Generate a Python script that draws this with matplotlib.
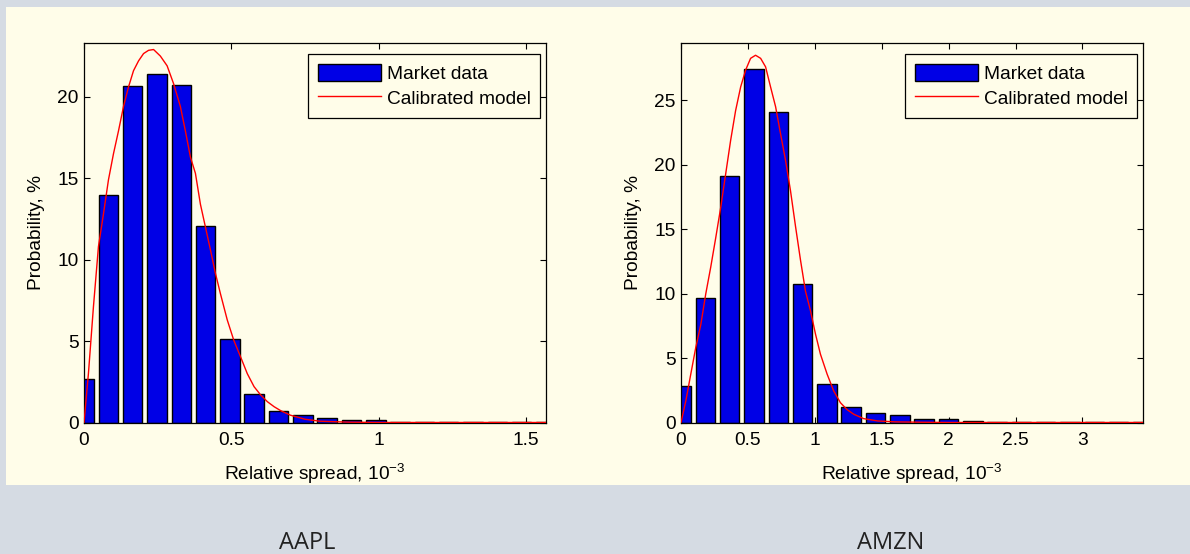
import matplotlib
matplotlib.use("Agg")
import matplotlib.pyplot as plt
from matplotlib.patches import Rectangle

plt.rcParams['font.family'] = ['Liberation Sans', 'DejaVu Sans']
plt.rcParams['mathtext.default'] = 'regular'

# histogram bin centres (1e-3 units) and bar heights, %
aapl_bins = [0, 0.0825, 0.165, 0.2475, 0.33, 0.4125, 0.495, 0.5775, 0.66, 0.7425,
             0.825, 0.9075, 0.99, 1.0725, 1.155, 1.2375, 1.32, 1.4025, 1.485, 1.5675]
aapl_prob = [2.65, 13.95, 20.65, 21.37, 20.72, 12.08, 5.12, 1.73, 0.73, 0.48,
             0.28, 0.17, 0.13, 0.06, 0.05, 0.04, 0.03, 0.03, 0.02, 0.02]
amzn_bins = [0, 0.1817, 0.3634, 0.5451, 0.7268, 0.9085, 1.0902, 1.2719, 1.4536, 1.6353,
             1.817, 1.9987, 2.1804, 2.3621, 2.5438, 2.7255, 2.9072, 3.0889, 3.2706, 3.4523]
amzn_prob = [2.85, 9.7, 19.1, 27.45, 24.1, 10.75, 2.97, 1.23, 0.75, 0.55,
             0.3, 0.3, 0.15, 0.07, 0.06, 0.05, 0.05, 0.04, 0.04, 0.04]

# calibrated model curves
aapl_model_x = [0, 0.015, 0.032, 0.049, 0.066, 0.083, 0.100, 0.117, 0.134, 0.151,
                0.168, 0.185, 0.202, 0.219, 0.236, 0.259, 0.282, 0.304, 0.327, 0.344,
                0.361, 0.378, 0.395, 0.412, 0.429, 0.446, 0.463, 0.486, 0.508, 0.531,
                0.554, 0.577, 0.599, 0.622, 0.645, 0.668, 0.70, 0.75, 0.80, 0.90,
                1.0, 1.2, 1.5675]
aapl_model_y = [0, 3.0, 7.1, 10.8, 12.8, 14.9, 16.5, 17.9, 19.4, 20.6,
                21.6, 22.2, 22.65, 22.85, 22.9, 22.5, 21.9, 20.8, 19.4, 17.9,
                16.3, 15.3, 13.4, 12.0, 10.6, 9.15, 7.9, 6.3, 5.06, 4.04,
                3.0, 2.2, 1.7, 1.28, 0.97, 0.72, 0.45, 0.2, 0.08, 0.02,
                0.0, 0.0, 0.0]
amzn_model_x = [0, 0.036, 0.073, 0.11, 0.148, 0.185, 0.222, 0.259, 0.297, 0.334,
                0.371, 0.408, 0.446, 0.483, 0.52, 0.557, 0.595, 0.632, 0.669, 0.707,
                0.744, 0.781, 0.818, 0.856, 0.893, 0.93, 0.967, 1.005, 1.042, 1.092,
                1.141, 1.191, 1.241, 1.291, 1.365, 1.47, 1.6, 1.8, 2.0, 3.4523]
amzn_model_y = [0, 1.67, 3.75, 5.8, 7.6, 9.98, 12.05, 14.3, 16.7, 19.3,
                21.9, 24.2, 26.05, 27.35, 28.26, 28.5, 28.26, 27.6, 26.05, 24.5,
                22.4, 20.35, 18.0, 15.2, 12.6, 10.2, 8.7, 6.86, 5.3, 3.75,
                2.45, 1.54, 1.0, 0.64, 0.3, 0.12, 0.05, 0.02, 0.0, 0.0]

aapl_xticks = [0, 0.5, 1, 1.5]
aapl_xlabels = ['0', '0.5', '1', '1.5']
aapl_yticks = [0, 5, 10, 15, 20]
amzn_xticks = [0, 0.5, 1, 1.5, 2, 2.5, 3]
amzn_xlabels = ['0', '0.5', '1', '1.5', '2', '2.5', '3']
amzn_yticks = [0, 5, 10, 15, 20, 25]

cream = '#fffde9'
W, H = 1190, 554
fig = plt.figure(figsize=(W / 100, H / 100), dpi=100, facecolor='#d5dbe3')
# cream panel behind both plots
fig.patches.append(Rectangle((6 / W, 1 - 485 / H), 1 - 6 / W, (485 - 7) / H,
                             transform=fig.transFigure, facecolor=cream,
                             edgecolor='none', zorder=-10))

fs = 13.8


def draw(ax, bins, prob, mx, my, xticks, xlabels, yticks, xmax, ymax):
    step = bins[1] - bins[0]
    ax.set_facecolor(cream)
    bars = ax.bar(bins, prob, width=0.8 * step, color='#0000e6', edgecolor='black',
                  linewidth=1.0, zorder=2)
    line, = ax.plot(mx, my, color='red', linewidth=1.0, zorder=3)
    ax.set_xlim(0, xmax)
    ax.set_ylim(0, ymax)
    ax.set_xticks(xticks)
    ax.set_xticklabels(xlabels)
    ax.set_yticks(yticks)
    ax.set_yticklabels([str(v) for v in yticks])
    ax.tick_params(direction='in', top=True, right=True, length=4, width=0.8,
                   labelsize=fs, colors='black')
    ax.tick_params(axis='x', pad=7)
    ax.tick_params(axis='y', pad=4)
    for s in ax.spines.values():
        s.set_linewidth(0.9)
    ax.set_xlabel(r'Relative spread, 10$^{-3}$', fontsize=fs, labelpad=9)
    ax.set_ylabel('Probability, %', fontsize=fs, labelpad=9)
    leg = ax.legend([bars, line], ['Market data', 'Calibrated model'],
                    loc='upper right', bbox_to_anchor=(1 - 6 / 462, 1 - 11 / 379.5),
                    fontsize=fs, fancybox=False, framealpha=1, facecolor=cream,
                    edgecolor='black', borderaxespad=0, handlelength=3.3,
                    handleheight=1.05, handletextpad=0.3, labelspacing=0.3,
                    borderpad=0.5)
    leg.get_frame().set_linewidth(0.9)


ax1 = fig.add_axes([84 / W, 1 - 422.5 / H, 462 / W, 379.5 / H])
draw(ax1, aapl_bins, aapl_prob, aapl_model_x, aapl_model_y,
     aapl_xticks, aapl_xlabels, aapl_yticks, 1.5675, 23.3)
ax2 = fig.add_axes([681 / W, 1 - 422.5 / H, 462 / W, 379.5 / H])
draw(ax2, amzn_bins, amzn_prob, amzn_model_x, amzn_model_y,
     amzn_xticks, amzn_xlabels, amzn_yticks, 3.4523, 29.45)

fig.text(307 / W, 1 - 543 / H, 'AAPL', family='Open Sans', fontsize=17,
         color='#222222', ha='center', va='center')
fig.text(891 / W, 1 - 543 / H, 'AMZN', family='Open Sans', fontsize=17,
         color='#222222', ha='center', va='center')

fig.savefig('out.png', dpi=100, facecolor=fig.get_facecolor())
